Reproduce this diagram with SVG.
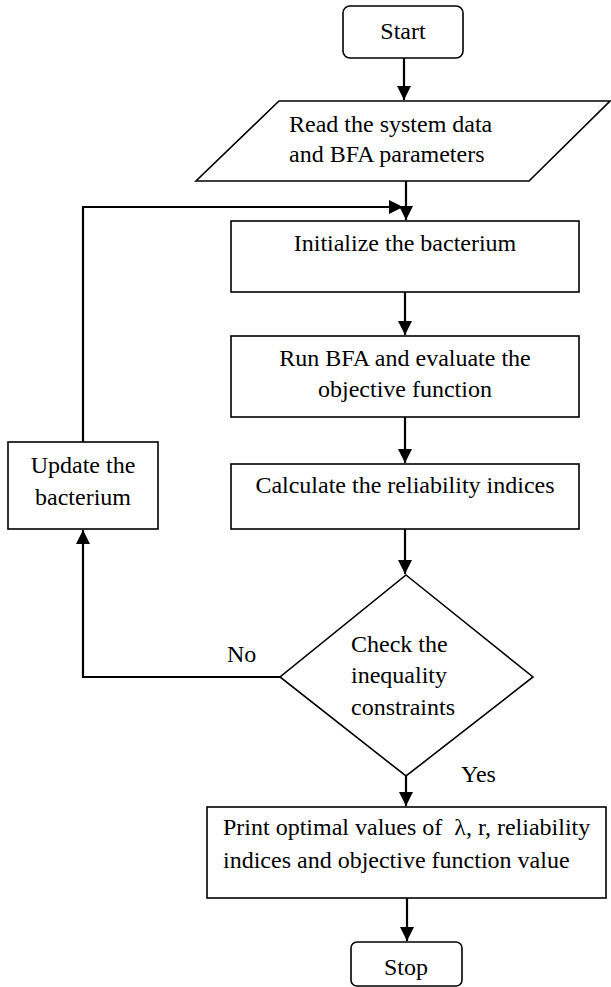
<svg xmlns="http://www.w3.org/2000/svg" width="611" height="987" viewBox="0 0 611 987" font-family="'Liberation Serif', 'Times New Roman', serif" font-size="24">
<defs>
<style>
.n{fill:#fff;stroke:#000;stroke-width:1.6}
.c{fill:none;stroke:#000;stroke-width:2.2}
.t{font-family:'Liberation Serif','Times New Roman',serif;font-size:24px;fill:#000}
.m{text-anchor:middle}
</style>
<marker id="ah" markerUnits="userSpaceOnUse" markerWidth="14" markerHeight="16" viewBox="0 0 14 16" refX="14" refY="7" orient="auto">
<path d="M0,0 L14,7 L0,14 Z" fill="#000"/>
</marker>
</defs>
<g id="connectors">
<line class="c" x1="404" y1="58" x2="404" y2="100" marker-end="url(#ah)"/>
<line class="c" x1="406" y1="181" x2="406" y2="220" marker-end="url(#ah)"/>
<polyline class="c" points="83,442 83,207 403,207" marker-end="url(#ah)"/>
<line class="c" x1="405" y1="292" x2="405" y2="335" marker-end="url(#ah)"/>
<line class="c" x1="405" y1="417" x2="405" y2="463" marker-end="url(#ah)"/>
<line class="c" x1="405" y1="529" x2="405" y2="574" marker-end="url(#ah)"/>
<polyline class="c" points="280,677 83,677 83,530" marker-end="url(#ah)"/>
<line class="c" x1="406" y1="776" x2="406" y2="806" marker-end="url(#ah)"/>
<line class="c" x1="407" y1="898" x2="407" y2="941" marker-end="url(#ah)"/>
<text class="t" x="227" y="662">No</text>
<text class="t" x="461" y="782">Yes</text>
</g>
<g id="start">
<rect class="n" x="343" y="6" width="120" height="52" rx="7"/>
<text class="t m" x="403" y="39">Start</text>
</g>
<g id="read">
<polygon class="n" points="279,101 610,101 529,181 196,181"/>
<text class="t" x="289" y="132">Read the system data</text>
<text class="t" x="289" y="162">and BFA parameters</text>
</g>
<g id="init">
<rect class="n" x="231" y="221" width="348" height="71"/>
<text class="t m" x="405" y="251">Initialize the bacterium</text>
</g>
<g id="run">
<rect class="n" x="231" y="336" width="348" height="81"/>
<text class="t m" x="405" y="366">Run BFA and evaluate the</text>
<text class="t m" x="405" y="397">objective function</text>
</g>
<g id="calc">
<rect class="n" x="231" y="464" width="348" height="65"/>
<text class="t m" x="405" y="493">Calculate the reliability indices</text>
</g>
<g id="update">
<rect class="n" x="8" y="442" width="150" height="87"/>
<text class="t m" x="83" y="473">Update the</text>
<text class="t m" x="83" y="505">bacterium</text>
</g>
<g id="check">
<polygon class="n" points="406,575 533,677 406,776 280,677"/>
<text class="t" x="351" y="652">Check the</text>
<text class="t" x="351" y="683">inequality</text>
<text class="t" x="351" y="715">constraints</text>
</g>
<g id="print">
<rect class="n" x="207" y="807" width="399" height="91"/>
<text class="t" x="223" y="835" xml:space="preserve">Print optimal values of  λ, r, reliability</text>
<text class="t" x="223" y="868">indices and objective function value</text>
</g>
<g id="stop">
<rect class="n" x="351" y="942" width="111" height="44" rx="6"/>
<text class="t m" x="406" y="975">Stop</text>
</g>
</svg>
